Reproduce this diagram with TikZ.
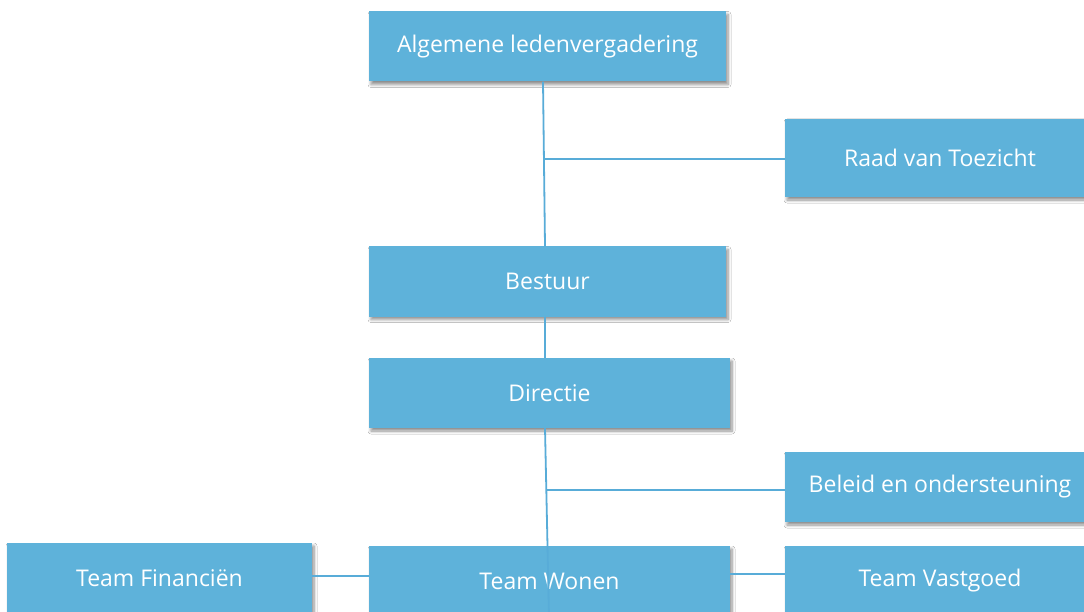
\documentclass[tikz,border=0pt]{standalone}
\usepackage{fontspec}
\setmainfont{Open Sans}
\usetikzlibrary{shadows.blur}
\definecolor{boxblue}{RGB}{94,178,218}
\definecolor{lineblue}{RGB}{88,172,216}
\begin{document}
\begin{tikzpicture}[x=1pt, y=-1pt,
    unit/.style={fill=boxblue, draw=none, text=white, inner sep=0pt,
      minimum height=70pt, font=\fontsize{23}{27}\selectfont,
      blur shadow={shadow xshift=2pt, shadow yshift=-3pt, shadow blur radius=3pt,
        shadow blur steps=6, shadow opacity=45}},
    link/.style={draw=lineblue, line width=1.8pt}]
    \clip (0, 0) rectangle (1084, 612);
    \fill[white] (0, 0) rectangle (1084, 612);

    % organen
    \node[unit, minimum width=357pt] (alv) at (547.5, 46.5) {Algemene ledenvergadering};
    \node[unit, minimum width=310pt, minimum height=78pt] (raad) at (940, 158) {Raad van Toezicht};
    \node[unit, minimum width=357pt] (bestuur) at (547.5, 281.5) {Bestuur};
    \node[unit, minimum width=361pt] (directie) at (549.5, 393) {Directie};
    \node[unit, minimum width=310pt] (beleid) at (940, 487) {Beleid en ondersteuning};

    % teams
    \node[unit, minimum width=305pt] (financien) at (159.5, 578) {Team Financiën};
    \node[unit, minimum width=361pt] (wonen) at (549.5, 581) {Team Wonen};
    \node[unit, minimum width=310pt] (vastgoed) at (940, 581) {Team Vastgoed};

    \coordinate (toezicht) at (544, 159);
    \coordinate (staf) at (546.5, 490);

    \draw[link] ([xshift=-4.5pt]alv.south) -- ([xshift=-2.5pt]bestuur.north);
    \draw[link] (toezicht) -- (raad.west |- toezicht);
    \draw[link] ([xshift=-2.5pt]bestuur.south) -- ([xshift=-4.5pt]directie.north);
    \draw[link] (staf) -- (beleid.west |- staf);
    \draw[link] (financien.east |- 0, 576) -- (wonen.west |- 0, 576);
    \draw[link] (wonen.east |- 0, 574) -- (vastgoed.west |- 0, 574);
    \draw[link] ([xshift=-4.5pt]directie.south) -- ([xshift=-0.5pt]wonen.south);
\end{tikzpicture}
\end{document}
